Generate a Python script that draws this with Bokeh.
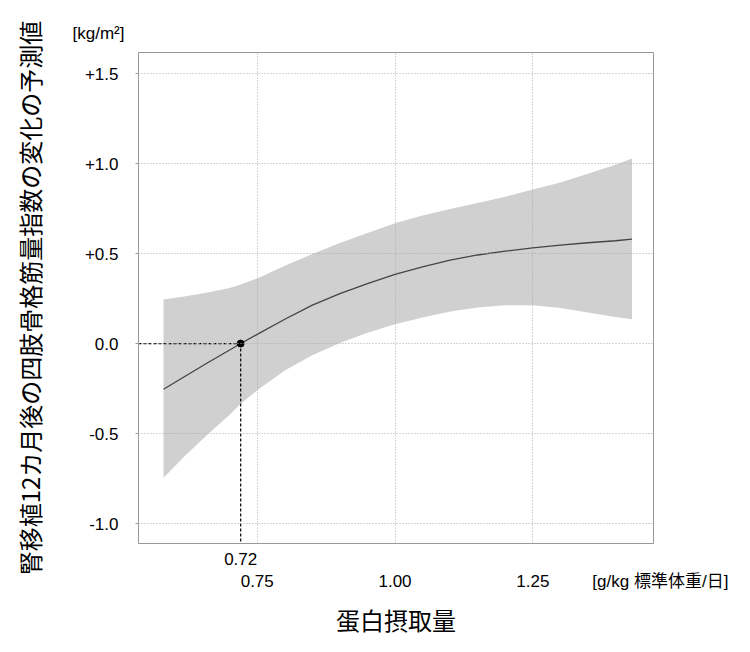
from bokeh.plotting import figure
from bokeh.models import (Range1d, FixedTicker, CustomJSTickFormatter, AllLabels)
from bokeh.embed import file_html
from bokeh.resources import INLINE

# ---- data ----
protein = [0.58, 0.62, 0.66, 0.70, 0.72, 0.75, 0.80, 0.85, 0.90, 0.95, 1.00,
           1.05, 1.10, 1.15, 1.20, 1.25, 1.30, 1.35, 1.40, 1.43]
fit = [-0.254, -0.18, -0.107, -0.036, 0.0, 0.051, 0.135, 0.213, 0.277, 0.333, 0.384,
       0.426, 0.464, 0.492, 0.513, 0.531, 0.547, 0.560, 0.571, 0.58]
upper = [0.245, 0.263, 0.283, 0.308, 0.328, 0.362, 0.432, 0.497, 0.558, 0.614, 0.668,
         0.712, 0.747, 0.781, 0.816, 0.856, 0.895, 0.943, 0.993, 1.028]
lower = [-0.745, -0.62, -0.505, -0.395, -0.335, -0.26, -0.15, -0.065, 0.003, 0.06, 0.107,
         0.145, 0.178, 0.20, 0.213, 0.213, 0.197, 0.172, 0.148, 0.135]
ref_x = 0.72
ref_y = 0.0
x_ticks = [0.75, 1.00, 1.25]
y_ticks = [-1.0, -0.5, 0.0, 0.5, 1.0, 1.5]

x_title = "蛋白摂取量"
y_title = "腎移植12カ月後の四肢骨格筋量指数の変化の予測値"
x_unit = "[g/kg 標準体重/日]"
y_unit = "[kg/m²]"

XMIN, XMAX = 0.5346, 1.469
YMIN, YMAX = -1.111, 1.617
UNIT_POS = 1.466  # where the x unit text sits on the axis row

LAT = "Liberation Sans, Noto Sans CJK JP"
CJK = "Noto Sans CJK JP"

p = figure(width=750, height=652, output_backend="svg", toolbar_location=None,
           x_range=Range1d(XMIN, XMAX), y_range=Range1d(YMIN, YMAX),
           min_border_left=138, min_border_right=97,
           min_border_top=52, min_border_bottom=109)

p.background_fill_color = "white"
p.border_fill_color = "white"
p.outline_line_color = "#999999"
p.outline_line_width = 1

# y unit as left-aligned title above the frame
p.title.text = y_unit
p.title.align = "left"
p.title.offset = -66
p.title.text_font = LAT
p.title.text_font_size = "17px"
p.title.text_font_style = "normal"
p.title.text_color = "black"
p.title.standoff = 20

# band, fit line
p.varea(x=protein, y1=lower, y2=upper, fill_color="#d0d0d0")
p.line(x=protein, y=fit, line_color="#444444", line_width=1.3)

# reference dashed lines + point
p.segment(x0=[XMIN, ref_x], y0=[ref_y, ref_y], x1=[ref_x, ref_x], y1=[ref_y, YMIN],
          line_color="black", line_dash="3 2", line_width=1.2)
p.scatter([ref_x], [ref_y], size=7, color="black")

# x axis: ref value on the first line, regular ticks and unit on the second line
p.xaxis.ticker = FixedTicker(ticks=[ref_x] + x_ticks + [UNIT_POS])
p.xaxis.formatter = CustomJSTickFormatter(
    args=dict(ref=ref_x, upos=UNIT_POS, unit="\u2002\u2002" + x_unit),
    code="""
    if (Math.abs(tick - ref) < 1e-9) return tick.toFixed(2);
    if (Math.abs(tick - upos) < 1e-9) return '\\n' + unit;
    return '\\n' + tick.toFixed(2);
    """)
p.xaxis.major_label_policy = AllLabels()
p.yaxis.ticker = FixedTicker(ticks=y_ticks)
p.yaxis.formatter = CustomJSTickFormatter(
    code="return (tick > 0 ? '+' : '') + tick.toFixed(1);")

for ax in (p.xaxis[0], p.yaxis[0]):
    ax.axis_line_color = "#999999"
    ax.major_tick_line_color = "#999999"
    ax.minor_tick_line_color = None
    ax.major_label_text_font = LAT
    ax.major_label_text_font_size = "17px"
    ax.major_label_text_color = "black"
    ax.axis_label_text_color = "black"
    ax.axis_label_text_font = CJK
    ax.axis_label_text_font_style = "normal"
    ax.axis_label_text_font_size = "24px"

p.xaxis.major_tick_in = 0
p.xaxis.major_tick_out = 0
p.xaxis.major_label_standoff = 6
p.xaxis.axis_label = x_title
p.xaxis.axis_label_standoff = 8

p.yaxis.major_tick_in = 0
p.yaxis.major_tick_out = 3
p.yaxis.major_label_standoff = 17
p.yaxis.axis_label = y_title
p.yaxis.axis_label_standoff = 35

# grid
for g in (p.xgrid[0], p.ygrid[0]):
    g.grid_line_color = "#aaaaaa"
    g.grid_line_dash = "1 2"
    g.grid_line_width = 1
    g.level = "overlay"
p.xgrid.ticker = FixedTicker(ticks=x_ticks)
p.ygrid.ticker = FixedTicker(ticks=y_ticks)

open("out.html", "w").write(file_html(p, INLINE))
